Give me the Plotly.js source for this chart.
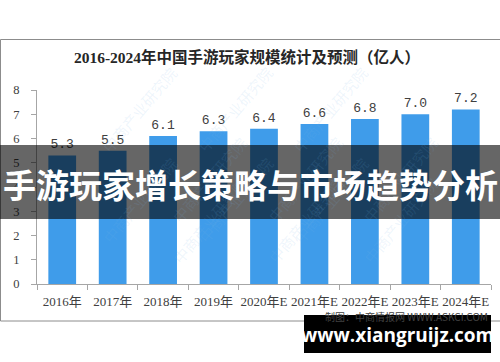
<!DOCTYPE html>
<html><head><meta charset="utf-8">
<script src="https://cdn.plot.ly/plotly-3.0.1.min.js"></script>
<style>html,body{margin:0;padding:0;background:#fff;}#c{width:500px;height:362px;}</style>
</head><body><div id="c"></div>
<script>
const categories = ["2016年","2017年","2018年","2019年","2020年E","2021年E","2022年E","2023年E","2024年E"];
const players = [5.3, 5.5, 6.1, 6.3, 6.4, 6.6, 6.8, 7.0, 7.2];
const labels = ["5.3","5.5","6.1","6.3","6.4","6.6","6.8","7.0","7.2"];
const yTicks = [0,1,2,3,4,5,6,7,8];
const chartTitle = "2016-2024年中国手游玩家规模统计及预测（亿人）";
const bannerText = "手游玩家增长策略与市场趋势分析";
const sourceText = "制图：中商情报网 WWW.ASKCI.COM";
const siteText = "www.xiangruijz.com";
const watermark = "中商产业研究院";

const L=37, R=491, T=90, B=284;
const px = x => (x-L)/(R-L);
const py = y => (B-y)/(B-T);

const serif = "'Liberation Serif','Noto Sans CJK SC',serif";
const wmAnn = [];
const wmPos = [[95,60],[235,60],[375,60],[95,200],[235,200],[375,200],[165,130],[305,130],[445,130],[165,270],[305,270],[445,270]];
wmPos.forEach(p=>wmAnn.push({x:px(p[0]),y:py(p[1]),xref:'paper',yref:'paper',text:watermark,showarrow:false,textangle:-50,
  font:{family:"'Noto Sans CJK SC',sans-serif",size:15,color:'rgba(120,180,230,0.13)'}}));

const data = [{
  type:'bar', x:categories, y:players, text:labels, textposition:'outside', cliponaxis:false,
  textfont:{family:"'Liberation Mono','Noto Sans CJK SC',monospace",size:13,color:'#404040'},
  marker:{color:'#3f9cea'}, width:0.55, hoverinfo:'skip'
}];
const layout = {
  width:500, height:362, margin:{l:L,r:500-R,t:T,b:362-B},
  paper_bgcolor:'#fff', plot_bgcolor:'rgba(0,0,0,0)', showlegend:false,
  title:{text:'<b>'+chartTitle+'</b>', x:0.494, xanchor:'center', y:1-58/362, yanchor:'middle',
    font:{family:serif,size:15.5,color:'#262626'}},
  xaxis:{type:'category', showgrid:false, showline:true, linecolor:'#a6a6a6', linewidth:1,
    ticks:'outside', tickson:'boundaries', ticklen:5, tickcolor:'#a6a6a6', tickangle:0, ticklabelstandoff:5,
    tickfont:{family:serif,size:13,color:'#404040'}, fixedrange:true},
  yaxis:{range:[0,8], tickvals:yTicks, showgrid:false, zeroline:false, showline:true, linecolor:'#a6a6a6',
    ticks:'outside', ticklen:5, tickcolor:'#a6a6a6', ticklabelstandoff:9, tickfont:{family:serif,size:12.5,color:'#404040'}, fixedrange:true},
  shapes:[
    {type:'rect', xref:'paper', yref:'paper', x0:px(0.5), x1:px(501), y0:py(321), y1:py(39.5), line:{color:'#8c8c8c',width:1}, fillcolor:'rgba(0,0,0,0)', layer:'below'},
    {type:'rect', xref:'paper', yref:'paper', x0:px(-2), x1:px(502), y0:py(219), y1:py(145), line:{width:0}, fillcolor:'rgba(0,0,0,0.6)', layer:'above'},
    {type:'rect', xref:'paper', yref:'paper', x0:px(304), x1:px(491), y0:py(353), y1:py(315), line:{width:0}, fillcolor:'#000', layer:'above'}
  ],
  annotations: wmAnn.concat([
    {x:px(490), y:py(316), xref:'paper', yref:'paper', xanchor:'right', yanchor:'middle', text:sourceText, showarrow:false,
      font:{family:"'Noto Sans CJK SC',sans-serif", size:10, color:'#404040'}},
    {x:px(250), y:py(184), xref:'paper', yref:'paper', xanchor:'center', yanchor:'middle', text:'<b>'+bannerText+'</b>', showarrow:false,
      font:{family:"'Noto Sans CJK SC',sans-serif", size:33, color:'#ffffff'}},
    {x:px(397), y:py(335), xref:'paper', yref:'paper', xanchor:'center', yanchor:'middle', text:'<b>'+siteText+'</b>', showarrow:false,
      font:{family:"'Open Sans','DejaVu Sans',sans-serif", size:19, color:'#ffffff'}}
  ])
};
Plotly.newPlot('c', data, layout, {staticPlot:true, displayModeBar:false});
</script></body></html>
